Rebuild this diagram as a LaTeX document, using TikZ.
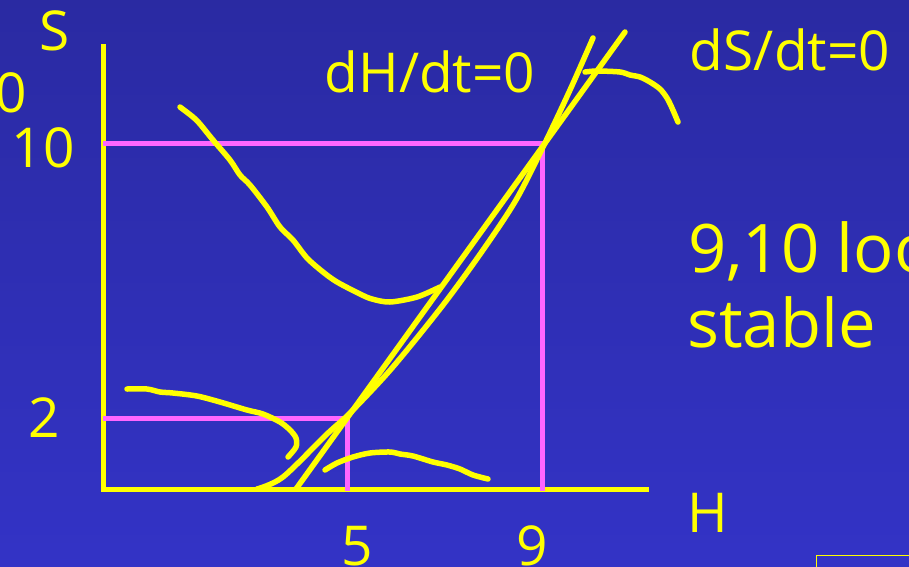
\documentclass[tikz,border=0pt]{standalone}
\usepackage{fontspec}
\setmainfont{Open Sans}
\definecolor{bgtop}{RGB}{42,42,162}
\definecolor{bgbot}{RGB}{51,51,198}
\definecolor{ylw}{RGB}{255,255,0}
\definecolor{pnk}{RGB}{255,102,255}
\tikzset{
  lbl/.style={text=ylw,inner sep=0pt,anchor=base,font=\fontsize{55}{60}\selectfont},
  biglbl/.style={text=ylw,inner sep=0pt,anchor=base west,font=\fontsize{67}{72}\selectfont},
  axisline/.style={draw=ylw,line width=5pt},
  guide/.style={draw=pnk,line width=5pt},
  curve/.style={draw=ylw,line width=5.5pt,line cap=round,line join=round},
}
\begin{document}
\begin{tikzpicture}[x=1pt,y=-1pt]
\useasboundingbox (0,0) rectangle (909,566);
\shade[top color=bgtop,bottom color=bgbot] (0,0) rectangle (909,566);
% axes
\draw[axisline] (103,44) -- (103,491);
\draw[axisline] (101,489.5) -- (649,489.5);
% guide lines
\draw[guide] (103,143) -- (542,143) -- (542,491);
\draw[guide] (103,418) -- (347,418) -- (347,491);
% straight nullcline
\draw[curve] (296,489) -- (625,32);
% curved nullcline
\draw[curve] plot[smooth,tension=0.5] coordinates {(257,489) (283,477) (327,434) (350,413) (392,368) (443,305) (483,250) (516,200) (544,145) (570,90) (593,38)};
% upper U curve
\draw[curve] plot[smooth,tension=0.5] coordinates {(180,107) (193,117) (200,124) (213,140) (230,160) (240,175) (250,185) (267,207) (280,227) (293,240) (307,258) (323,272) (337,282) (360,294) (372,299) (390,302) (417,297) (440,287)};
% upper right arc
\draw[curve] plot[smooth,tension=0.5] coordinates {(585,72) (597,71) (620,72) (630,75) (640,77) (650,82) (660,89) (667,98) (672,108) (678,122)};
% lower left curve
\draw[curve] plot[smooth,tension=0.5] coordinates {(127,389) (147,389) (160,392) (173,393) (197,396) (220,402) (247,410) (263,414) (280,422) (290,430) (296,438) (296,447) (288,457)};
% lower right arc
\draw[curve] plot[smooth,tension=0.5] coordinates {(325,470) (337,463) (353,457) (370,453) (390,452) (400,454) (413,456) (433,462) (447,465) (460,469) (473,475) (488,479)};
% small box bottom right
\draw[draw=ylw,line width=1.5pt] (816.5,600) -- (816.5,555.5) -- (920,555.5);
% labels
\node[lbl] (lS) at (55,50) {S};
\node[lbl] (l0) at (11,112) {0};
\node[lbl] (l10) at (43,167) {10};
\node[lbl] (l2) at (44,437) {2};
\node[lbl] (l5) at (357,565) {5};
\node[lbl] (l9) at (532,565) {9};
\node[lbl] (lH) at (708,532) {H};
\node[lbl] (ldH) at (430,92) {dH/dt=0};
\node[lbl] (ldS) at (790,70) {dS/dt=0};
\node[biglbl] (lnote) at (688,272) {9,10 loo};
\node[biglbl] (lstable) at (687,347) {stable};
\end{tikzpicture}
\end{document}
